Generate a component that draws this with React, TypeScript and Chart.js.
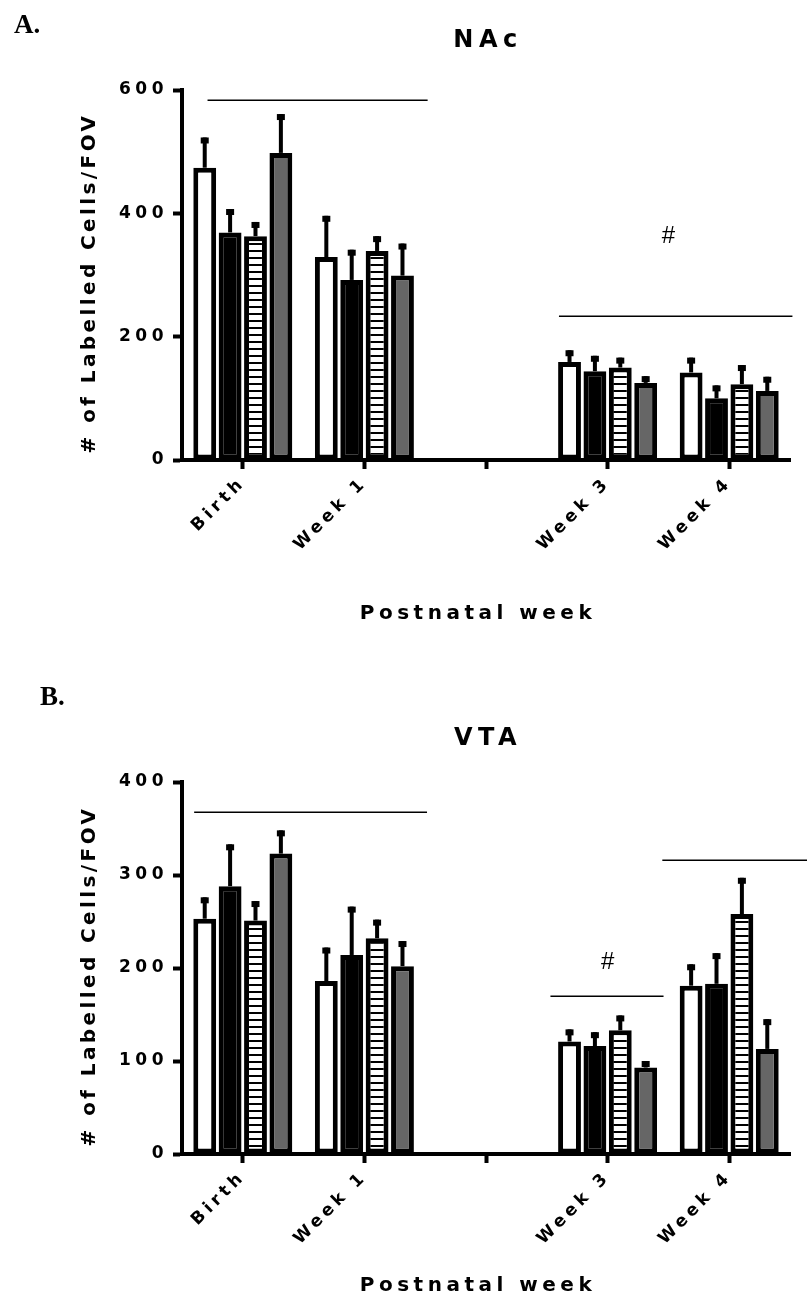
import React, { useEffect, useRef } from "react";
import { Chart, registerables } from "chart.js";

Chart.register(...registerables);

// ---------- data ----------
const categories = ["Birth", "Week 1", "", "Week 3", "Week 4"];
const seriesNames = ["Open", "Filled", "Striped", "Grey"];

// NAc panel (mean, upper SEM)
const nacOpen = [474, 329, null, 159, 142];
const nacOpenErr = [49, 67, null, 19, 24];
const nacFilled = [369, 292, null, 144, 100];
const nacFilledErr = [38, 49, null, 25, 21];
const nacStriped = [363, 339, null, 150, 123];
const nacStripedErr = [23, 24, null, 16, 31];
const nacGrey = [498, 299, null, 125, 112];
const nacGreyErr = [63, 52, null, 11, 23];
const nacYTicks = [0, 200, 400, 600];

// VTA panel (mean, upper SEM)
const vtaOpen = [253, 186, null, 121, 181];
const vtaOpenErr = [23, 36, null, 13, 23];
const vtaFilled = [288, 214, null, 116, 183];
const vtaFilledErr = [45, 52, null, 15, 33];
const vtaStriped = [251, 232, null, 133, 258];
const vtaStripedErr = [21, 20, null, 16, 39];
const vtaGrey = [323, 202, null, 93, 113];
const vtaGreyErr = [25, 27, null, 7, 32];
const vtaYTicks = [0, 100, 200, 300, 400];

// significance brackets (category units / data units)
const nacBrackets = [
  { from: -0.29, to: 1.52, value: 584 },
  { from: 2.6, to: 4.52, value: 233 },
];
const nacMarks = [{ at: 3.5, value: 362, text: "#" }];
const vtaBrackets = [
  { from: -0.4, to: 1.515, value: 368 },
  { from: 2.53, to: 3.46, value: 170 },
  { from: 3.45, to: 4.64, value: 316 },
];
const vtaMarks = [{ at: 3.0, value: 206, text: "#" }];

const BOLD = '"DejaVu Sans", "Liberation Sans", Arial, sans-serif';
const SANS = '"Liberation Sans", Arial, sans-serif';
const SERIF = '"Liberation Serif", "Times New Roman", serif';

function makeStripePattern(): any {
  const c = document.createElement("canvas");
  c.width = 8;
  c.height = 7;
  const g = c.getContext("2d")!;
  g.fillStyle = "#ffffff";
  g.fillRect(0, 0, 8, 7);
  g.fillStyle = "#000000";
  g.fillRect(0, 5, 8, 2);
  return g.createPattern(c, "repeat") || "#ffffff";
}

const textCfg: any = {
  x: { labels: "4.2px", title: "4.5px", titleDx: -8, titleDy: 0 },
  y: { labels: "4.5px", title: "3.4px", titleDx: 0, titleDy: 8 },
};

const spacingPlugin = {
  id: "letterSpacingPatch",
  beforeDraw(chart: any) {
    Object.keys(chart.scales).forEach((id) => {
      const s: any = chart.scales[id];
      const cfg = textCfg[id];
      if (s.__patched || !cfg) return;
      s.__patched = true;
      const origLabels = s.drawLabels.bind(s);
      const origTitle = s.drawTitle.bind(s);
      s.drawLabels = (area: any) => {
        const ctx: any = chart.ctx;
        ctx.save();
        ctx.letterSpacing = cfg.labels;
        origLabels(area);
        ctx.restore();
      };
      s.drawTitle = (area: any) => {
        const ctx: any = chart.ctx;
        ctx.save();
        ctx.letterSpacing = cfg.title;
        ctx.translate(cfg.titleDx, cfg.titleDy);
        origTitle(area);
        ctx.restore();
      };
    });
  },
};

type PanelProps = {
  top: number;
  height: number;
  plotTop: number;
  plotBottom: number;
  yMax: number;
  yTicks: number[];
  values: (number | null)[][];
  errors: (number | null)[][];
  brackets: { from: number; to: number; value: number }[];
  marks: { at: number; value: number; text: string }[];
  letter: string;
  letterX: number;
  letterY: number;
  title: string;
  titleY: number;
  xTitlePad: number;
};

function Panel(p: PanelProps) {
  const ref = useRef<HTMLCanvasElement>(null);
  useEffect(() => {
    const canvas = ref.current!;
    const stripe = makeStripePattern();
    const fills = ["#ffffff", "#000000", stripe, "#666666"];

    const errorPlugin = {
      id: "errorBars",
      afterDatasetsDraw(chart: any) {
        const ctx = chart.ctx;
        const ys = chart.scales.y;
        ctx.save();
        ctx.fillStyle = "#000";
        p.values.forEach((vals, i) => {
          const meta = chart.getDatasetMeta(i);
          meta.data.forEach((bar: any, j: number) => {
            const v = vals[j];
            const e = p.errors[i][j];
            if (v == null || e == null) return;
            const yTop = ys.getPixelForValue(v + e);
            ctx.fillRect(bar.x - 2, yTop, 4, bar.y - yTop);
            ctx.fillRect(bar.x - 4, yTop, 8, 6);
          });
        });
        ctx.restore();
      },
    };

    const annotationPlugin = {
      id: "annotations",
      afterDraw(chart: any) {
        const ctx: any = chart.ctx;
        const xs = chart.scales.x;
        const ys = chart.scales.y;
        ctx.save();
        ctx.strokeStyle = "#000";
        ctx.lineWidth = 1.5;
        p.brackets.forEach((b) => {
          const y = Math.round(ys.getPixelForValue(b.value)) + 0.25;
          ctx.beginPath();
          ctx.moveTo(xs.getPixelForValue(b.from), y);
          ctx.lineTo(xs.getPixelForValue(b.to), y);
          ctx.stroke();
        });
        ctx.fillStyle = "#000";
        ctx.font = `24px ${SANS}`;
        ctx.textAlign = "center";
        ctx.textBaseline = "middle";
        p.marks.forEach((m) => {
          ctx.fillText(m.text, xs.getPixelForValue(m.at), ys.getPixelForValue(m.value));
        });
        // panel letter
        ctx.font = `bold 27px ${SERIF}`;
        ctx.textAlign = "left";
        ctx.textBaseline = "alphabetic";
        ctx.fillText(p.letter, p.letterX, p.letterY);
        // title
        ctx.letterSpacing = "5.5px";
        ctx.font = `bold 24px ${BOLD}`;
        ctx.textAlign = "center";
        const cx = (chart.chartArea.left + chart.chartArea.right) / 2;
        ctx.fillText(p.title, cx + 2, p.titleY);
        ctx.restore();
      },
    };

    const chart = new Chart(canvas, {
      type: "bar",
      data: {
        labels: categories,
        datasets: p.values.map((vals, i) => ({
          label: seriesNames[i],
          data: vals,
          backgroundColor: fills[i],
          borderColor: "#000000",
          borderWidth: 5,
          borderSkipped: false,
          categoryPercentage: 0.835,
          barPercentage: 0.9,
        })) as any,
      },
      options: {
        animation: false,
        responsive: false,
        events: [],
        layout: { padding: { left: 0, right: 17, top: p.plotTop, bottom: 0 } },
        plugins: {
          legend: { display: false },
          tooltip: { enabled: false },
          title: { display: false },
        },
        scales: {
          x: {
            type: "category",
            offset: true,
            grid: {
              display: true,
              offset: false,
              drawOnChartArea: false,
              drawTicks: true,
              tickLength: 9,
              tickWidth: 4,
              tickColor: "#000",
            },
            border: { display: true, width: 4, color: "#000" },
            ticks: {
              color: "#000",
              autoSkip: false,
              minRotation: 45,
              maxRotation: 45,
              padding: 4,
              font: { family: BOLD, size: 17, weight: "bold" },
            },
            title: {
              display: true,
              text: "Postnatal week",
              color: "#000",
              font: { family: BOLD, size: 20, weight: "bold" },
              padding: { top: 0, bottom: p.xTitlePad },
            },
            afterFit: (s: any) => {
              s.height = p.height - p.plotBottom;
            },
          },
          y: {
            min: 0,
            max: p.yMax,
            afterBuildTicks: (s: any) => {
              s.ticks = p.yTicks.map((v) => ({ value: v }));
            },
            ticks: {
              color: "#000",
              padding: 5,
              font: { family: BOLD, size: 17, weight: "bold" },
            },
            grid: {
              display: true,
              drawOnChartArea: false,
              drawTicks: true,
              tickLength: 9,
              tickWidth: 4,
              tickColor: "#000",
            },
            border: { display: true, width: 4, color: "#000" },
            title: {
              display: true,
              text: "# of Labelled Cells/FOV",
              color: "#000",
              font: { family: BOLD, size: 20, weight: "bold" },
              padding: { top: 78, bottom: 0 },
            },
            afterFit: (s: any) => {
              s.width = 182;
            },
          },
        },
      } as any,
      plugins: [spacingPlugin, errorPlugin, annotationPlugin],
    });
    return () => chart.destroy();
  }, []);

  return (
    <canvas
      ref={ref}
      width={807}
      height={p.height}
      style={{ position: "absolute", left: 0, top: p.top, width: 807, height: p.height, display: "block" }}
    />
  );
}

export default function App() {
  return (
    <div style={{ position: "absolute", left: 0, top: 0, width: 807, height: 1307, background: "#ffffff" }}>
      <Panel
        top={0}
        height={650}
        plotTop={90}
        plotBottom={460}
        yMax={600}
        yTicks={nacYTicks}
        values={[nacOpen, nacFilled, nacStriped, nacGrey]}
        errors={[nacOpenErr, nacFilledErr, nacStripedErr, nacGreyErr]}
        brackets={nacBrackets}
        marks={nacMarks}
        letter="A."
        letterX={14}
        letterY={33}
        title="NAc"
        titleY={47}
        xTitlePad={24}
      />
      <Panel
        top={650}
        height={657}
        plotTop={132}
        plotBottom={504}
        yMax={400}
        yTicks={vtaYTicks}
        values={[vtaOpen, vtaFilled, vtaStriped, vtaGrey]}
        errors={[vtaOpenErr, vtaFilledErr, vtaStripedErr, vtaGreyErr]}
        brackets={vtaBrackets}
        marks={vtaMarks}
        letter="B."
        letterX={40}
        letterY={55}
        title="VTA"
        titleY={95}
        xTitlePad={9}
      />
    </div>
  );
}
